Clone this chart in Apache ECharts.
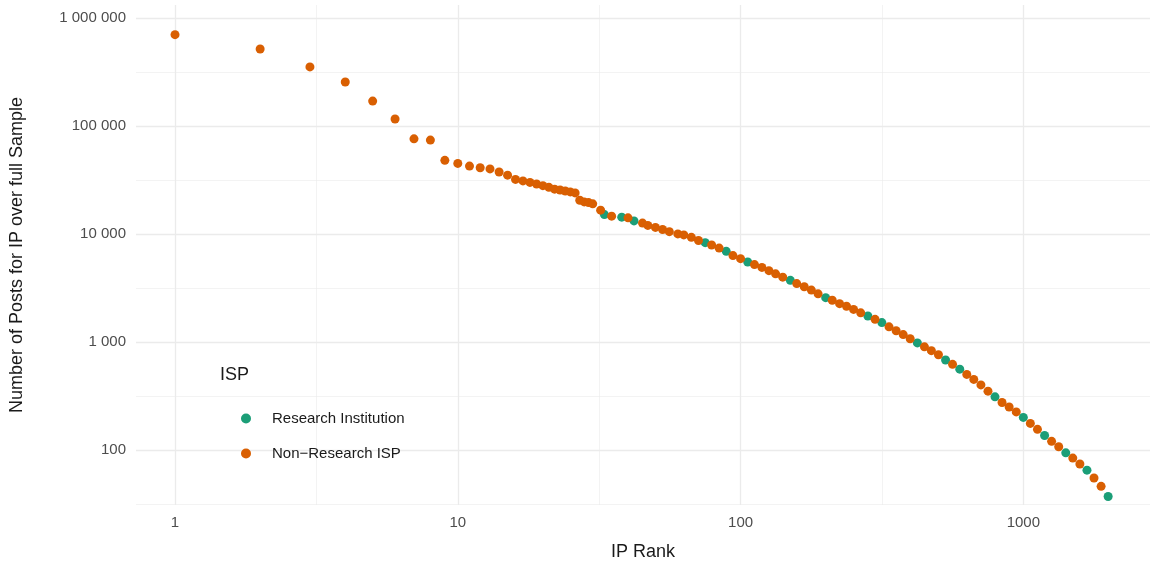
<!DOCTYPE html>
<html><head><meta charset="utf-8">
<script src="https://cdn.jsdelivr.net/npm/echarts@6/dist/echarts.min.js"></script>
<style>html,body{margin:0;padding:0;background:#fff}#c{width:1156px;height:575px}</style>
</head><body><div id="c"></div>
<script>
const xTicks=[1,10,100,1000];
const xTickLabels=['1','10','100','1000'];
const yTicks=[100,1000,10000,100000,1000000];
const yTickLabels=['100','1 000','10 000','100 000','1 000 000'];
const nonResRanks=[1,2,3,4,5,6,7,8,9,10,11,12,13,14,15,16,17,18,19,20,21,22,23,24,25,26,27,28,29,30,32,35,40,45,47,50,53,56,60,63,67,71,79,84,94,100,112,119,126,133,141,158,168,178,188,211,224,237,251,266,299,335,355,376,398,447,473,501,562,631,668,708,750,841,891,944,1059,1122,1259,1334,1496,1585,1778,1884];
const nonResPosts=[700000,516000,352000,255000,170000,116000,76000,74000,48000,45000,42500,41000,40000,37500,35000,32000,31000,30000,29000,28000,27000,26000,25500,25000,24500,24000,20500,19800,19500,19000,16600,14600,14100,12600,12000,11500,11000,10500,10000,9800,9300,8700,7900,7400,6300,5900,5200,4900,4570,4270,3980,3470,3240,3020,2790,2430,2260,2140,2000,1860,1620,1380,1270,1170,1070,900,830,760,620,500,450,400,350,275,250,225,176,155,120,107,84,74,55,46];
const resRanks=[33,38,42,75,89,106,150,200,282,316,422,531,596,794,1000,1189,1413,1679,1995];
const resPosts=[15100,14300,13200,8300,6900,5500,3720,2570,1740,1510,980,680,560,310,200,136,94,65,37];
const L=Math.log10;
const pts=(r,p)=>r.map((v,i)=>[L(v),L(p[i])]);
const xMaj=xTicks.map(L), yMaj=yTicks.map(L);
const xMin=[0.5,1.5,2.5], yMin=[1.5,2.5,3.5,4.5,5.5];
const ml=(arr,key,w)=>arr.map(v=>({[key]:v,lineStyle:{color:'#ebebeb',width:w,type:'solid'}}));
const chart=echarts.init(document.getElementById('c'));
chart.setOption({
  animation:false,
  grid:{left:134,right:6,top:5,bottom:70},
  xAxis:{type:'value',min:-0.138,max:3.448,splitLine:{show:false},axisLine:{show:false},axisTick:{show:false},
    axisLabel:{customValues:xMaj,color:'#4d4d4d',fontSize:15,fontFamily:'Liberation Sans',margin:10,
      formatter:v=>{const i=xMaj.findIndex(t=>Math.abs(t-v)<1e-6);return i>=0?xTickLabels[i]:'';}},
    name:'IP Rank',nameLocation:'middle',nameGap:38,nameTextStyle:{color:'#1a1a1a',fontSize:18,fontFamily:'Liberation Sans'}},
  yAxis:{type:'value',min:1.49,max:6.12,splitLine:{show:false},axisLine:{show:false},axisTick:{show:false},
    axisLabel:{customValues:yMaj,color:'#4d4d4d',fontSize:15,fontFamily:'Liberation Sans',margin:10,
      formatter:v=>{const i=yMaj.findIndex(t=>Math.abs(t-v)<1e-6);return i>=0?yTickLabels[i]:'';}},
    name:'Number of Posts for IP over full Sample',nameLocation:'middle',nameGap:110,nameTextStyle:{color:'#1a1a1a',fontSize:18,fontFamily:'Liberation Sans'}},
  legend:{z:20,orient:'vertical',left:236,top:406,itemGap:20,itemWidth:14,itemHeight:10,
    textStyle:{color:'#1a1a1a',fontSize:15,fontFamily:'Liberation Sans',padding:[0,0,0,14]},data:['Research Institution','Non\u2212Research ISP']},
  graphic:[{type:'text',left:220,top:366,style:{text:'ISP',fontSize:18,fill:'#1a1a1a',fontFamily:'Liberation Sans'}}],
  series:[
    {type:'scatter',name:'grid',z:0,data:[],silent:true,markLine:{z:0,silent:true,symbol:'none',label:{show:false},
      data:[...ml(xMin,'xAxis',0.6),...ml(yMin,'yAxis',0.6),...ml(xMaj,'xAxis',1.3),...ml(yMaj,'yAxis',1.3)]}},
    {type:'scatter',name:'Research Institution',symbol:'circle',symbolSize:9,itemStyle:{color:'#1B9E77',opacity:1},data:pts(resRanks,resPosts)},
    {type:'scatter',name:'Non\u2212Research ISP',symbol:'circle',symbolSize:9,itemStyle:{color:'#D95F02',opacity:1},data:pts(nonResRanks,nonResPosts)}
  ]
});
</script></body></html>
